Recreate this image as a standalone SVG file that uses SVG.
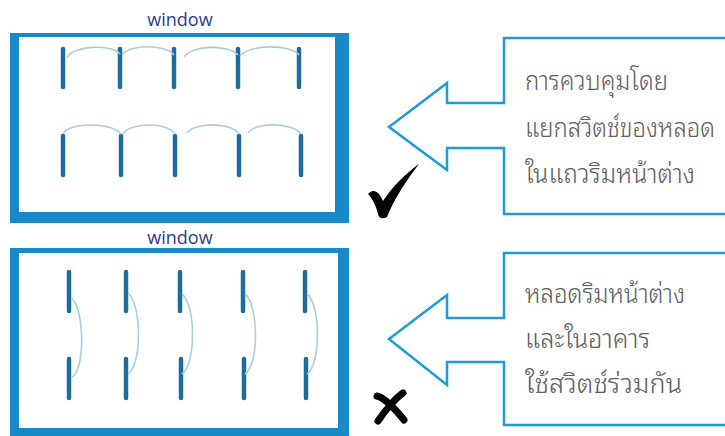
<svg xmlns="http://www.w3.org/2000/svg" width="725" height="436" viewBox="0 0 725 436">
<style>
.frame{fill:#1889c6;fill-rule:evenodd}
.win{font-family:"Open Sans","Liberation Sans",sans-serif;font-size:18px;fill:#2e3a8c;text-anchor:middle}
.lamp{stroke:#1c6c9e;stroke-width:4.5;stroke-linecap:round}
.wire{fill:none;stroke:#a8cde2;stroke-width:1.6}
.callout{fill:#fff;stroke:#1c9bd6;stroke-width:2.5}
.th{font-family:"Noto Sans Thai Looped","Noto Sans Thai","Noto Sans","DejaVu Sans",sans-serif;font-size:27px;font-weight:300;fill:#5e5e5e}
.mark{fill:#000}
</style>
<rect width="725" height="436" fill="#fff"/>
<g id="room-top">
<text class="win" x="180" y="26">window</text>
<path class="frame" d="M10,33H349V223H10Z M19,37V212H335V37Z"/>
<g id="lamps-top">
<line class="lamp" x1="63" y1="49" x2="63" y2="87"/>
<line class="lamp" x1="120" y1="49" x2="120" y2="87"/>
<line class="lamp" x1="174" y1="49" x2="174" y2="87"/>
<line class="lamp" x1="238" y1="49" x2="238" y2="87"/>
<line class="lamp" x1="299" y1="49" x2="299" y2="87"/>
<line class="lamp" x1="63" y1="136" x2="63" y2="175"/>
<line class="lamp" x1="121" y1="136" x2="121" y2="175"/>
<line class="lamp" x1="175" y1="136" x2="175" y2="175"/>
<line class="lamp" x1="239" y1="136" x2="239" y2="175"/>
<line class="lamp" x1="301" y1="136" x2="301" y2="175"/>
<path class="wire" d="M67,58 C72,45 112,44 120,54"/>
<path class="wire" d="M122,55 C130,44 165,44 174,55"/>
<path class="wire" d="M184,57 C192,45 228,44 238,55"/>
<path class="wire" d="M240,56 C250,44 290,44 299,55"/>
<path class="wire" d="M63,134 C68,122 113,122 121,134"/>
<path class="wire" d="M123,134 C130,122 168,122 175,134"/>
<path class="wire" d="M187,133 C195,122 232,122 239,134"/>
<path class="wire" d="M248,133 C255,122 293,122 301,134"/>
</g>
</g>
<g id="room-bottom">
<text class="win" x="180" y="244">window</text>
<path class="frame" d="M10,248H349V436H10Z M19,253V428H338V253Z"/>
<g id="lamps-bottom">
<line class="lamp" x1="69" y1="272" x2="69" y2="311"/>
<line class="lamp" x1="126" y1="272" x2="126" y2="311"/>
<line class="lamp" x1="180" y1="272" x2="180" y2="311"/>
<line class="lamp" x1="243" y1="272" x2="243" y2="311"/>
<line class="lamp" x1="305" y1="272" x2="305" y2="311"/>
<line class="lamp" x1="69" y1="359" x2="69" y2="398"/>
<line class="lamp" x1="126" y1="359" x2="126" y2="398"/>
<line class="lamp" x1="181" y1="359" x2="181" y2="398"/>
<line class="lamp" x1="244" y1="359" x2="244" y2="398"/>
<line class="lamp" x1="306" y1="359" x2="306" y2="398"/>
<path class="wire" d="M71,298 C84,305 86,370 72,377"/>
<path class="wire" d="M128,293 C142,305 142,365 128,374"/>
<path class="wire" d="M182,294 C196,305 196,365 182,374"/>
<path class="wire" d="M245,294 C259,305 259,365 245,374"/>
<path class="wire" d="M307,294 C321,305 321,365 307,374"/>
</g>
</g>
<g id="callout-top">
<path class="callout" d="M727,38H504V103H447V83L389,127L447,170V148H504V214H727"/>
<text class="th" x="525" y="90" textLength="143" lengthAdjust="spacingAndGlyphs">การควบคุมโดย</text>
<text class="th" x="525" y="137" textLength="190" lengthAdjust="spacingAndGlyphs">แยกสวิตช์ของหลอด</text>
<text class="th" x="525" y="183" textLength="170" lengthAdjust="spacingAndGlyphs">ในแถวริมหน้าต่าง</text>
</g>
<g id="callout-bottom">
<path class="callout" d="M727,253H504V318H447V295L389,339L447,385V362H504V425H727"/>
<text class="th" x="525" y="303" textLength="160" lengthAdjust="spacingAndGlyphs">หลอดริมหน้าต่าง</text>
<text class="th" x="525" y="348" textLength="125" lengthAdjust="spacingAndGlyphs">และในอาคาร</text>
<text class="th" x="525" y="393" textLength="157" lengthAdjust="spacingAndGlyphs">ใช้สวิตช์ร่วมกัน</text>
</g>
<g id="check">
<path class="mark" d="M368,194 C373,188 379,191 383,201 C393,186 405,174 419,164 C407,180 395,197 387,217 C383,219 379,219 378,214 C376,206 373,199 368,194 Z"/>
</g>
<g id="cross">
<path d="M377,396 C385,398 396,410 404,420 M403,393 C397,397 386,409 378,421" fill="none" stroke="#000" stroke-width="7" stroke-linecap="round"/>
</g>
</svg>
